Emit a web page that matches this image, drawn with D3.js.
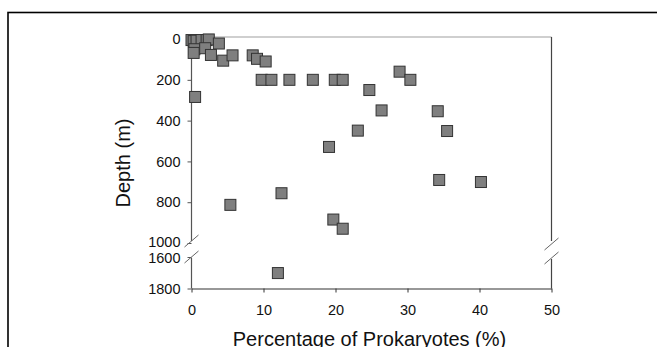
<!DOCTYPE html>
<html>
<head>
<meta charset="utf-8">
<script src="https://cdn.jsdelivr.net/npm/d3@7"></script>
<style>
  html, body { margin: 0; padding: 0; background: #fff; }
  svg { display: block; }
  text { font-family: "Liberation Sans", Arial, sans-serif; fill: #111; }
</style>
</head>
<body>
<svg id="chart" width="657" height="347"></svg>
<script>
// ---- Data ----
const percentProkaryotes = [
  0.0, 0.3, 0.7, 1.4, 2.1, 2.4, 0.4, 0.3, 1.9, 3.8, 2.7, 4.4, 5.7,
  8.5, 9.1, 10.3, 0.5,
  9.75, 11.1, 13.6, 16.85, 19.9, 21.0,
  28.9, 30.4, 24.7, 26.4, 34.2, 23.1, 35.5, 19.1,
  34.4, 40.2, 12.5, 5.4, 19.7, 21.0, 12.0
];
const depthM = [
  5, 10, 8, 5, 5, 2, 50, 68, 45, 22, 78, 106, 80,
  80, 97, 110, 284,
  200, 200, 200, 200, 200, 200,
  160, 200, 250, 350, 354, 449, 451, 529,
  691, 701, 756, 813, 885, 930, 1702
];
const xTicks = [0, 10, 20, 30, 40, 50];
const yTicksUpper = [0, 200, 400, 600, 800, 1000];
const yTicksLower = [1600, 1800];
const xTitle = "Percentage of Prokaryotes (%)";
const yTitle = "Depth (m)";

// ---- Layout ----
const svg = d3.select("#chart");
const left = 191.5, right = 551.5;
const topY = 37, breakUpper = 243, breakLower = 257, bottomY = 288.5;

const x = d3.scaleLinear().domain([0, 50]).range([left, right]);
const yU = d3.scaleLinear().domain([-10, 1000]).range([topY, breakUpper]);
const yL = d3.scaleLinear().domain([1600, 1800]).range([breakLower, bottomY]);
const yPos = d => d > 1000 ? yL(d) : yU(d);
const fmt = d3.format("d");

// outer frame
svg.append("rect")
  .attr("x", 8).attr("y", 12.5)
  .attr("width", 700).attr("height", 400)
  .attr("fill", "none").attr("stroke", "#000").attr("stroke-width", 1.6);

// top border of plot (light grey)
svg.append("line")
  .attr("x1", left).attr("x2", right).attr("y1", topY).attr("y2", topY)
  .attr("stroke", "#a0a0a0").attr("stroke-width", 1.2);

// right border with break
svg.append("line")
  .attr("x1", right).attr("x2", right).attr("y1", topY).attr("y2", 241)
  .attr("stroke", "#444").attr("stroke-width", 1.2);
svg.append("line")
  .attr("x1", right).attr("x2", right).attr("y1", 259).attr("y2", bottomY)
  .attr("stroke", "#444").attr("stroke-width", 1.2);

// Y axis (two segments)
const axU = svg.append("g").attr("transform", `translate(${left},0)`)
  .call(d3.axisLeft(yU).tickValues(yTicksUpper).tickFormat(fmt).tickSize(4).tickSizeOuter(0));
const axL = svg.append("g").attr("transform", `translate(${left},0)`)
  .call(d3.axisLeft(yL).tickValues(yTicksLower).tickFormat(fmt).tickSize(4).tickSizeOuter(0));
[axU, axL].forEach(g => {
  g.select(".domain").remove();
  g.selectAll(".tick line").attr("stroke", "#555");
  g.selectAll(".tick text")
    .attr("x", -11)
    .style("font-size", "14.5px")
    .style("font-family", '"Liberation Sans", Arial, sans-serif')
    .attr("fill", "#111");
});
axU.selectAll(".tick text").filter(d => d === 1000).attr("dy", "0.25em");
axL.selectAll(".tick text").filter(d => d === 1600).attr("dy", "0.36em");

// y-axis lines with break gap
svg.append("line").attr("x1", left).attr("x2", left).attr("y1", topY).attr("y2", 241)
  .attr("stroke", "#555").attr("stroke-width", 1.2);
svg.append("line").attr("x1", left).attr("x2", left).attr("y1", 258).attr("y2", bottomY)
  .attr("stroke", "#555").attr("stroke-width", 1.2);

// X axis
const axX = svg.append("g").attr("transform", `translate(0,${bottomY})`)
  .call(d3.axisBottom(x).tickValues(xTicks).tickFormat(fmt).tickSize(4).tickSizeOuter(0));
axX.select(".domain").attr("stroke", "#333").attr("stroke-width", 1.2);
axX.selectAll(".tick line").attr("stroke", "#333");
axX.selectAll(".tick text")
  .attr("y", 16)
  .style("font-size", "14.5px")
  .style("font-family", '"Liberation Sans", Arial, sans-serif')
  .attr("fill", "#111");

// break marks
function slash(cx, cy) {
  svg.append("line")
    .attr("x1", cx - 7).attr("y1", cy + 6)
    .attr("x2", cx + 7).attr("y2", cy - 6)
    .attr("stroke", "#666").attr("stroke-width", 1);
}
slash(left, 241); slash(left, 257);
slash(right, 244); slash(right, 258);

// points
svg.append("g").selectAll("rect")
  .data(percentProkaryotes.map((p, i) => ({p, d: depthM[i]})))
  .join("rect")
  .attr("x", d => x(d.p) - 5.5)
  .attr("y", d => yPos(d.d) - 5.5)
  .attr("width", 11).attr("height", 11)
  .attr("fill", "#7f7f7f")
  .attr("stroke", "#333")
  .attr("stroke-width", 1);

// titles
svg.append("text")
  .attr("x", (left + right) / 2 - 2).attr("y", 346)
  .attr("text-anchor", "middle")
  .style("font-size", "20px")
  .text(xTitle);
svg.append("text")
  .attr("transform", `translate(130,163) rotate(-90)`)
  .attr("text-anchor", "middle")
  .style("font-size", "20px")
  .text(yTitle);
</script>
</body>
</html>
